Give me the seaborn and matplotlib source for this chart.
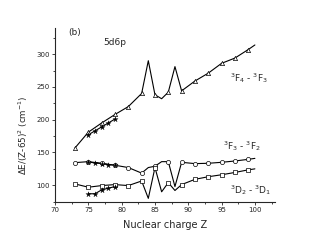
import matplotlib
matplotlib.use('Agg')

import matplotlib.pyplot as plt
import seaborn as sns
import numpy as np
import pandas as pd

sns.set_style('ticks')
plt.rcParams['font.family'] = ['DejaVu Sans']

# 3F4 - 3F3 (triangles)
z_f43 = [73, 75, 77, 79, 81, 83, 84, 85, 86, 87, 88, 89, 91, 93, 95, 97, 99, 100]
v_f43 = [157, 181, 195, 208, 220, 240, 290, 238, 232, 242, 281, 244, 259, 271, 286, 294, 307, 314]

# 3F3 - 3F2 (circles)
z_f32 = [73, 75, 77, 79, 81, 83, 84, 85, 86, 87, 88, 89, 91, 93, 95, 97, 99, 100]
v_f32 = [134.5, 136, 133.5, 130.5, 127, 118.5, 127, 129, 136, 136, 98, 135, 133, 133.5, 135, 137, 139.5, 141]

# 3D2 - 3D1 (squares)
z_d21 = [73, 75, 77, 79, 81, 83, 84, 85, 86, 87, 88, 89, 91, 93, 95, 97, 99, 100]
v_d21 = [102, 97, 99.5, 101, 99.5, 106.5, 80, 127, 90, 104, 92, 101, 109, 113, 116, 119.5, 123.5, 125]

# other calculation (stars)
z_star = [75, 76, 77, 78, 79]
v_star_f43 = [177, 183, 189, 195, 201]
v_star_f32 = [135.5, 134, 133, 131.5, 130.5]
v_star_d21 = [87, 87, 93, 95.5, 98]

fig, ax = plt.subplots(figsize=(3.2, 2.45), dpi=100)
fig.subplots_adjust(left=0.172, right=0.859, bottom=0.177, top=0.886)

series = [(z_f43, v_f43, '^'), (z_f32, v_f32, 'o'), (z_d21, v_d21, 's')]
for z, v, mk in series:
    df = pd.DataFrame({'Z': z, 'v': v})
    sns.lineplot(data=df, x='Z', y='v', color='black', lw=0.8, ax=ax)
    odd = df[df['Z'] % 2 == 1]
    sns.scatterplot(data=odd, x='Z', y='v', marker=mk, s=9, facecolor='white',
                    edgecolor='black', linewidth=0.5, zorder=3, ax=ax)

for vs in [v_star_f43, v_star_f32, v_star_d21]:
    df = pd.DataFrame({'Z': z_star, 'v': vs})
    sns.lineplot(data=df, x='Z', y='v', color='black', lw=0.8, ax=ax)
    sns.scatterplot(data=df, x='Z', y='v', marker='*', s=16, color='black',
                    edgecolor='black', linewidth=0.2, zorder=4, ax=ax)

ax.set_xlim(70, 103)
ax.set_ylim(75, 340)
ax.set_xticks(np.arange(70, 101, 5))
ax.set_xticks(np.arange(72.5, 103, 5), minor=True)
ax.set_yticks(np.arange(100, 301, 50))
ax.set_yticks(np.arange(75, 340, 50), minor=True)
ax.tick_params(which='major', labelsize=5, length=2.5, width=0.6, pad=1.5)
ax.tick_params(which='minor', length=1.5, width=0.6)
for s in ['top', 'right']:
    ax.spines[s].set_visible(False)
for s in ['left', 'bottom']:
    ax.spines[s].set_linewidth(0.8)

ax.set_xlabel('Nuclear charge Z', fontsize=7, labelpad=5)
ax.set_ylabel(r'$\Delta$E/(Z-65)$^2$ (cm$^{-1}$)', fontsize=6.3)
ax.yaxis.set_label_coords(-0.115, 0.38)

ax.text(72.0, 333, '(b)', fontsize=6.5, va='center')
ax.text(79.0, 318, '5d6p', fontsize=6.5, ha='center', va='center')
ax.text(96.3, 264, r'$^3$F$_4$ - $^3$F$_3$', fontsize=6.5, va='center')
ax.text(95.2, 160, r'$^3$F$_3$ - $^3$F$_2$', fontsize=6.5, va='center')
ax.text(96.2, 93, r'$^3$D$_2$ - $^3$D$_1$', fontsize=6.5, va='center')

fig.savefig('out.png', dpi=100)
